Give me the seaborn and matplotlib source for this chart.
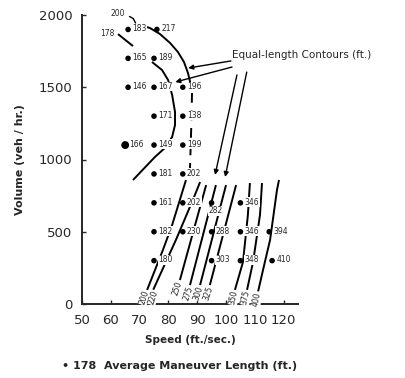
import matplotlib
matplotlib.use("Agg")
import matplotlib.pyplot as plt
import seaborn as sns
import pandas as pd

# ---- data points: speed (ft/sec), volume (veh/hr), average maneuver length (ft)
speed = [66, 76, 66, 75, 66, 75, 85, 75, 85, 65, 75, 85, 75, 85, 75, 85, 95, 105,
         75, 85, 95, 105, 115, 75, 95, 105, 116]
volume = [1900, 1900, 1700, 1700, 1500, 1500, 1500, 1300, 1300, 1100, 1100, 1100,
          900, 900, 700, 700, 700, 700, 500, 500, 500, 500, 500, 300, 300, 300, 300]
length = [183, 217, 165, 189, 146, 167, 196, 171, 138, 166, 149, 199, 181, 202,
          161, 202, 282, 346, 182, 230, 288, 346, 394, 180, 303, 348, 410]

# ---- equal-length contours (hand drawn in the original)
c178_a_x = [62.5, 67.7]
c178_a_y = [1868, 1785]
c178_b_x = [74.3, 77.8, 79.9, 81.3, 82.3, 82.3, 81.3, 78.8, 75.3, 67.7]
c178_b_y = [1675, 1619, 1550, 1446, 1329, 1239, 1156, 1080, 1017, 858]

c200_top_x = [70.1, 73.6, 77.1, 80.6, 83.3, 85.4, 86.8, 87.8]
c200_top_y = [1931, 1910, 1868, 1806, 1744, 1675, 1599, 1515]
c200_mid_x = [88.2, 87.9, 87.5]
c200_mid_y = [1460, 1200, 941]
c200_low_x = [86.1, 81.3, 78.1, 72.6]
c200_low_y = [858, 547, 374, 97]
c220_x = [91.0, 88.5, 82.6, 74.7]
c220_y = [844, 720, 443, 97]
c250_x = [84.0, 93.1]
c250_y = [166, 823]
c275_x = [87.5, 96.5]
c275_y = [131, 823]
c300_x = [91.0, 100.0]
c300_y = [131, 823]
c325_x = [94.4, 103.5]
c325_y = [131, 823]
c350_x = [103.1, 105.9, 107.6, 108.3]
c350_y = [97, 291, 616, 837]
c375_x = [107.3, 109.4, 111.8, 112.5]
c375_y = [97, 291, 616, 837]
c400_x = [111.1, 113.5, 115.3, 117.7, 118.4]
c400_y = [83, 291, 443, 789, 858]

contour_labels = ["200", "220", "250", "275", "300", "325", "350", "375", "400"]
contour_label_x = [71.6, 74.6, 83.2, 86.8, 90.3, 93.7, 102.7, 106.9, 110.7]
contour_label_y = [45, 45, 110, 75, 75, 75, 45, 45, 35]
contour_label_rot = [72, 72, 72, 72, 72, 72, 78, 78, 78]

x_ticks = [50, 60, 70, 80, 90, 100, 110, 120]
y_ticks = [0, 500, 1000, 1500, 2000]

# ---- figure
sns.set_style("ticks")
plt.rcParams["font.family"] = ["DejaVu Sans"]
fig = plt.figure(figsize=(4.06, 3.78), dpi=100)
W, H = 406, 378
ax = fig.add_axes([82 / W, 1 - 304 / H, (298 - 82) / W, (304 - 15) / H])

df = pd.DataFrame({"speed": speed, "volume": volume, "length": length})
sizes = [16 if (s, v) != (65, 1100) else 32 for s, v in zip(speed, volume)]
sns.scatterplot(data=df, x="speed", y="volume", color="black", s=sizes,
                edgecolor="none", ax=ax, zorder=5, legend=False)

for s, v, l in zip(speed, volume, length):
    if l == 282:
        ax.annotate(str(l), (s, v), xytext=(-2, -9), textcoords="offset points",
                    fontsize=5.5, ha="left", va="bottom", zorder=6,
                    bbox=dict(fc="white", ec="none", pad=0.3))
    else:
        ax.annotate(str(l), (s, v), xytext=(3, 0.5), textcoords="offset points",
                    fontsize=5.5, ha="left", va="center", zorder=6,
                    bbox=dict(fc="white", ec="none", pad=0.3))

lw = 1.4
for cx, cy in [(c178_a_x, c178_a_y), (c178_b_x, c178_b_y), (c200_top_x, c200_top_y),
               (c200_low_x, c200_low_y), (c220_x, c220_y), (c250_x, c250_y),
               (c275_x, c275_y), (c300_x, c300_y), (c325_x, c325_y),
               (c350_x, c350_y), (c375_x, c375_y), (c400_x, c400_y)]:
    ax.plot(cx, cy, color="black", lw=lw, solid_capstyle="butt", zorder=3)
ax.plot(c200_mid_x, c200_mid_y, color="black", lw=lw, ls=(0, (5, 4)), zorder=3)

for t, x, y, r in zip(contour_labels, contour_label_x, contour_label_y, contour_label_rot):
    ax.text(x, y, t, fontsize=5.5, rotation=r, ha="center", va="center", zorder=6,
            bbox=dict(fc="white", ec="none", pad=0.2), clip_on=False)

# top contour labels with leaders
ax.text(58.7, 1875, "178", fontsize=5.5, ha="center", va="center", clip_on=False)
ax.text(62.5, 2010, "200", fontsize=5.5, ha="center", va="center", clip_on=False)
ax.plot([66.5, 67.8, 68.6], [1990, 1975, 1945], color="black", lw=1.0, clip_on=False)

# Equal-length label with arrows
ax.text(102, 1723, "Equal-length Contours (ft.)", fontsize=7.5, ha="left",
        va="center", clip_on=False)
arrow_kw = dict(arrowstyle="-|>", color="black", lw=1.0, mutation_scale=7,
                shrinkA=0, shrinkB=0)
for (x0, y0), (x1, y1) in [((101.7, 1682), (86.9, 1633)), ((102.1, 1640), (82.4, 1536)),
                           ((103.8, 1585), (96.2, 893)), ((107.2, 1605), (99.7, 879))]:
    ax.annotate("", xy=(x1, y1), xytext=(x0, y0), arrowprops=arrow_kw)

ax.set_xlim(50, 125)
ax.set_ylim(0, 2000)
ax.set_xticks(x_ticks)
ax.set_yticks(y_ticks)
ax.set_xticklabels([str(v) for v in x_ticks], fontsize=9.5)
ax.set_yticklabels([str(v) for v in y_ticks], fontsize=9.5)
ax.tick_params(direction="in", length=3, width=1, pad=7)
for side in ["top", "right"]:
    ax.spines[side].set_visible(False)
for side in ["left", "bottom"]:
    ax.spines[side].set_linewidth(1.4)
ax.set_xlabel("Speed (ft./sec.)", fontsize=7.5, fontweight="bold", labelpad=6)
ax.set_ylabel("Volume (veh / hr.)", fontsize=8, fontweight="bold", labelpad=10)

fig.text(62 / W, 1 - 366 / H, "\u2022 178  Average Maneuver Length (ft.)",
         fontsize=8, fontweight="bold", ha="left", va="center")

fig.savefig("out.png", dpi=100, facecolor="white")
